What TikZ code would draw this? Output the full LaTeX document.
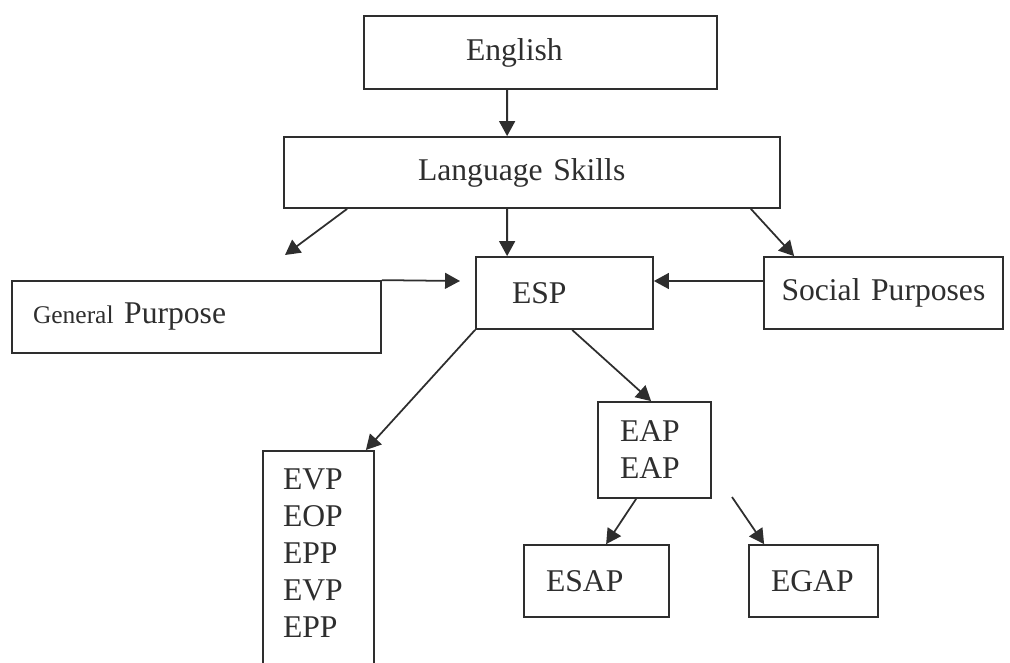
\documentclass[tikz,border=0pt]{standalone}
\usepackage{fontspec}
\setmainfont{Liberation Serif}
\usetikzlibrary{arrows.meta}

\tikzset{
  box/.style={draw, line width=1pt, align=left, inner ysep=0pt,
    font=\fontsize{18}{21}\selectfont},
  arr/.style={-{Triangle[length=8.5pt,width=9pt]}, line width=1pt},
}

\begin{document}
\begin{tikzpicture}[color=black!82]
\useasboundingbox (0,0) rectangle (20.2,-13.24);
\clip (0,0) rectangle (20.2,-13.24);

% Top of the tree
\node[box, inner xsep=2.04cm, text width=2.98cm, minimum height=1.46cm] (english) at (10.81,-1.05) {English};
\node[box, inner xsep=2.68cm, text width=4.56cm, minimum height=1.42cm] (skills) at (10.64,-3.45) {Language Skills};

% Middle row
\node[box, inner xsep=0.42cm, text width=6.54cm, minimum height=1.44cm] (general) at (3.93,-6.34) {{\fontsize{14.5}{17}\selectfont General} Purpose};
\node[box, inner xsep=0.72cm, text width=2.10cm, minimum height=1.44cm] (esp) at (11.29,-5.86) {ESP};
\node[box, inner xsep=0.35cm, text width=4.08cm, minimum height=1.44cm] (social) at (17.67,-5.86) {Social Purposes};

% Lower boxes
\node[box, anchor=north, inner xsep=0.40cm, inner ysep=0.36cm, text width=1.42cm] (evp) at (6.37,-9.0) {EVP\\EOP\\EPP\\EVP\\EPP\rule[-1.5cm]{0pt}{0pt}};
\node[box, inner xsep=0.44cm, text width=1.38cm, minimum height=1.92cm] (eap) at (13.09,-9.0) {EAP\\EAP};
\node[box, inner xsep=0.44cm, text width=2.02cm, minimum height=1.44cm] (esap) at (11.93,-11.62) {ESAP};
\node[box, inner xsep=0.44cm, text width=1.70cm, minimum height=1.44cm] (egap) at (16.27,-11.62) {EGAP};

% Free ends
\coordinate (gtip) at (5.70,-5.10);
\coordinate (gend) at (9.20,-5.62);
\coordinate (estart) at (14.64,-9.94);

% Connectors
\draw[arr] ([xshift=2.88cm]english.south west) -- ([xshift=4.48cm]skills.north west);
\draw[arr] ([xshift=4.48cm]skills.south west) -- ([xshift=0.64cm]esp.north west);
\draw[arr] ([xshift=1.28cm]skills.south west) -- (gtip);
\draw[arr] ([xshift=-0.60cm]skills.south east) -- ([xshift=0.62cm]social.north west);
\draw[arr] (general.north east) -- (gend);
\draw[arr] ([yshift=0.24cm]social.west) -- ([yshift=0.24cm]esp.east);
\draw[arr] (esp.south west) -- ([xshift=-0.18cm]evp.north east);
\draw[arr] ([xshift=1.94cm]esp.south west) -- ([xshift=1.08cm]eap.north west);
\draw[arr] ([xshift=0.78cm]eap.south west) -- ([xshift=1.66cm]esap.north west);
\draw[arr] (estart) -- ([xshift=0.32cm]egap.north west);
\end{tikzpicture}
\end{document}
